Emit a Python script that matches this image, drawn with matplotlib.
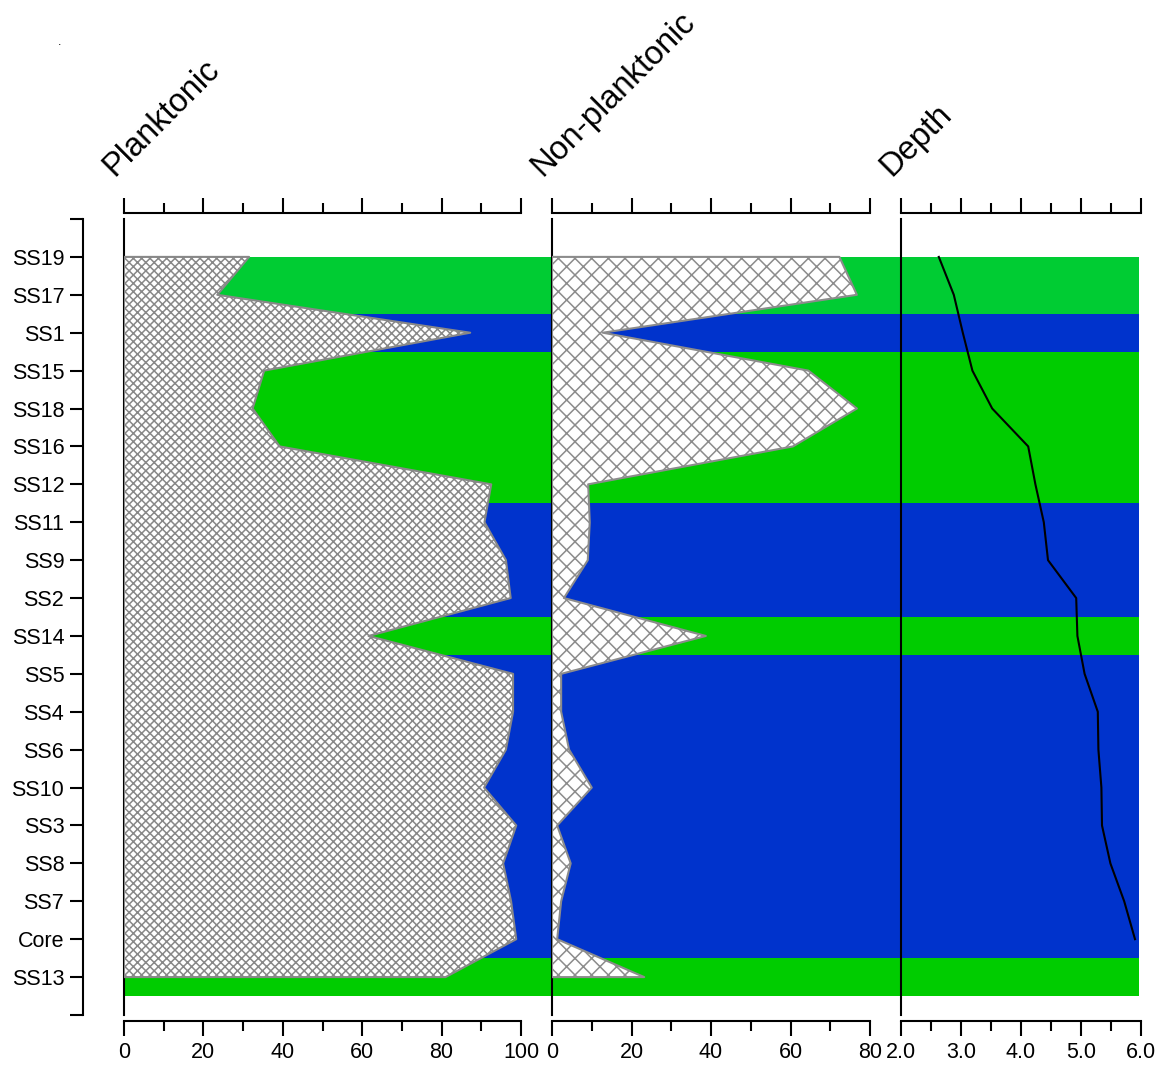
import matplotlib
matplotlib.use('Agg')
import matplotlib.pyplot as plt
import numpy as np

plt.rcParams['font.family'] = ['Liberation Sans', 'DejaVu Sans']
plt.rcParams['hatch.linewidth'] = 1.1

samples = ['SS19', 'SS17', 'SS1', 'SS15', 'SS18', 'SS16', 'SS12', 'SS11', 'SS9', 'SS2',
           'SS14', 'SS5', 'SS4', 'SS6', 'SS10', 'SS3', 'SS8', 'SS7', 'Core', 'SS13']
planktonic = [31.5, 23.5, 87.2, 35.3, 32.4, 39.2, 92.5, 90.8, 96.2, 97.4,
              61.6, 98.0, 98.0, 96.2, 90.7, 98.8, 95.5, 97.5, 98.8, 81.0]
non_planktonic = [72.3, 76.7, 12.8, 64.5, 76.7, 60.6, 9.1, 9.5, 9.0, 3.0,
                  38.7, 2.3, 2.3, 4.3, 10.0, 1.3, 4.7, 2.3, 1.3, 23.2]
depth = [2.63, 2.88, 3.03, 3.19, 3.52, 4.12, 4.24, 4.38, 4.45, 4.92,
         4.94, 5.06, 5.28, 5.29, 5.34, 5.35, 5.49, 5.72, 5.90, np.nan]

# coloured zones behind the panels (in sample index units)
zone_start = [0, 1.5, 2.5, 6.5, 9.5, 10.5, 18.5]
zone_end = [1.5, 2.5, 6.5, 9.5, 10.5, 18.5, 19.5]
zone_color = ['#00cc33', '#0033cc', '#00cc00', '#0033cc', '#00cc00', '#0033cc', '#00cc00']

W, H = 1164, 1066
fig = plt.figure(figsize=(W / 100, H / 100), dpi=100)

y_top, y_bot = 219, 1015
def frame(x0, x1):
    return [x0 / W, 1 - y_bot / H, (x1 - x0) / W, (y_bot - y_top) / H]

n = len(samples)
ylim = (n, -1)
yy = np.arange(n)

bg = fig.add_axes(frame(124, 1139), zorder=0)
for s, e, c in zip(zone_start, zone_end, zone_color):
    bg.axhspan(s, e, color=c, lw=0)
bg.set_ylim(ylim)
bg.set_xlim(0, 1)
bg.axis('off')

panels = [
    (124, 521, 'Planktonic', (0, 100), np.arange(0, 101, 20), np.arange(10, 100, 20), '%d'),
    (552, 870, 'Non-planktonic', (0, 80), np.arange(0, 81, 20), np.arange(10, 80, 20), '%d'),
    (901, 1141, 'Depth', (2, 6), np.arange(2, 6.1, 1), np.arange(2.5, 6, 1), '%.1f'),
]

axes = []
for x0, x1, title, xl, majors, minors, fmt in panels:
    ax = fig.add_axes(frame(x0, x1), zorder=1)
    ax.patch.set_alpha(0)
    ax.set_xlim(xl)
    ax.set_ylim(ylim)
    ax.set_xticks(majors)
    ax.set_xticks(minors, minor=True)
    ax.set_xticklabels([fmt % v for v in majors])
    ax.tick_params(axis='x', which='both', top=True, bottom=True, labeltop=False,
                   direction='out', width=1.5, labelsize=15.5, pad=5)
    ax.tick_params(axis='x', which='major', length=10.5)
    ax.tick_params(axis='x', which='minor', length=7)
    for side in ['top', 'bottom']:
        ax.spines[side].set_position(('outward', 4.3))
        ax.spines[side].set_linewidth(1.5)
    ax.spines['right'].set_visible(False)
    ax.spines['left'].set_visible(False)
    ax.tick_params(axis='y', left=False, labelleft=False)
    ax.axvline(xl[0], color='black', lw=1.5, zorder=2, clip_on=False)
    fig.text((x0 - 10) / W, 1 - 177 / H, title, rotation=45, rotation_mode='anchor',
             ha='left', va='baseline', fontsize=23.5)
    axes.append(ax)

ax1, ax2, ax3 = axes

ax1.fill_betweenx(yy, 0, planktonic, facecolor='white', edgecolor='#888888',
                  hatch='xxxx', lw=1.5, zorder=3)
ax2.fill_betweenx(yy, 0, non_planktonic, facecolor='white', edgecolor='#8c8c8c',
                  hatch='xx', lw=1.5, zorder=3)
ax3.plot(depth, yy, color='black', lw=1.5, zorder=3)

# sample axis on the left
ax1.spines['left'].set_visible(True)
ax1.spines['left'].set_position(('outward', 29.5))
ax1.spines['left'].set_linewidth(1.5)
ax1.set_yticks(np.arange(-1, n + 1))
ax1.set_yticklabels([''] + samples + [''])
ax1.tick_params(axis='y', left=True, labelleft=True, direction='out', length=9.5,
                width=1.5, labelsize=15.5, pad=4)

fig.text(58 / W, 1 - 45 / H, '.', fontsize=9)

fig.savefig('out.png', dpi=100)
